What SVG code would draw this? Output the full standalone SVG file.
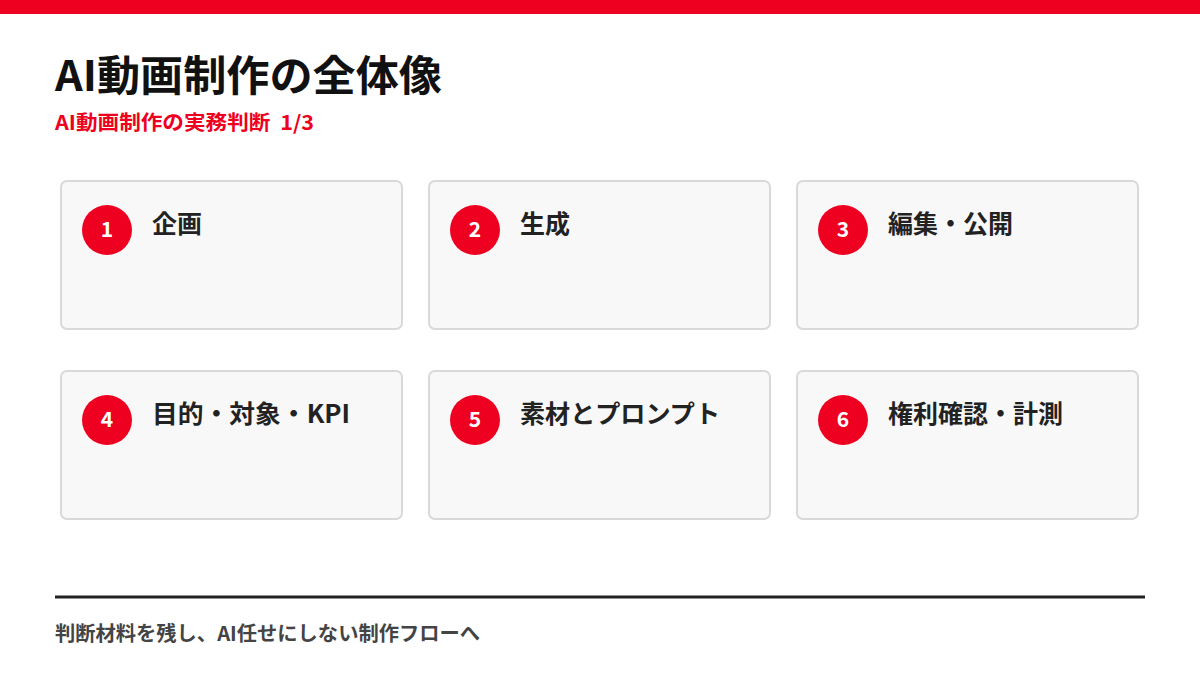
<svg xmlns="http://www.w3.org/2000/svg" width="1200" height="675" viewBox="0 0 1200 675">
<style>
text{font-family:"Noto Sans CJK JP","Noto Sans",sans-serif;font-weight:700}
.card{fill:#f8f8f8;stroke:#d9d9d9;stroke-width:2}
.badge{fill:#ee0020}
.num{fill:#fff;font-size:21px;text-anchor:middle}
.lbl{fill:#222;font-size:25px}
</style>
<rect width="1200" height="675" fill="#fff"/>
<rect x="0" y="0" width="1200" height="14" fill="#ee0020"/>
<text x="55" y="91" font-size="42" fill="#111" textLength="387" lengthAdjust="spacingAndGlyphs">AI動画制作の全体像</text>
<text x="55" y="130" font-size="20" fill="#ee0020" xml:space="preserve" textLength="259" lengthAdjust="spacingAndGlyphs">AI動画制作の実務判断  1/3</text>
<g id="n1"><rect class="card" x="61" y="181" width="341" height="148" rx="6"/><circle class="badge" cx="107" cy="230" r="25"/><text class="num" x="107" y="237">1</text><text class="lbl" x="152" y="233">企画</text></g>
<g id="n2"><rect class="card" x="429" y="181" width="341" height="148" rx="6"/><circle class="badge" cx="475" cy="230" r="25"/><text class="num" x="475" y="237">2</text><text class="lbl" x="520" y="233">生成</text></g>
<g id="n3"><rect class="card" x="797" y="181" width="341" height="148" rx="6"/><circle class="badge" cx="843" cy="230" r="25"/><text class="num" x="843" y="237">3</text><text class="lbl" x="888" y="233">編集・公開</text></g>
<g id="n4"><rect class="card" x="61" y="371" width="341" height="148" rx="6"/><circle class="badge" cx="107" cy="420" r="25"/><text class="num" x="107" y="427">4</text><text class="lbl" x="152" y="423" textLength="198" lengthAdjust="spacingAndGlyphs">目的・対象・KPI</text></g>
<g id="n5"><rect class="card" x="429" y="371" width="341" height="148" rx="6"/><circle class="badge" cx="475" cy="420" r="25"/><text class="num" x="475" y="427">5</text><text class="lbl" x="520" y="423" textLength="200" lengthAdjust="spacingAndGlyphs">素材とプロンプト</text></g>
<g id="n6"><rect class="card" x="797" y="371" width="341" height="148" rx="6"/><circle class="badge" cx="843" cy="420" r="25"/><text class="num" x="843" y="427">6</text><text class="lbl" x="888" y="423">権利確認・計測</text></g>
<g id="connectors"></g>
<line x1="55" y1="597" x2="1145" y2="597" stroke="#222" stroke-width="3"/>
<text x="55" y="641" font-size="20" fill="#444" textLength="425" lengthAdjust="spacingAndGlyphs">判断材料を残し、AI任せにしない制作フローへ</text>
</svg>
